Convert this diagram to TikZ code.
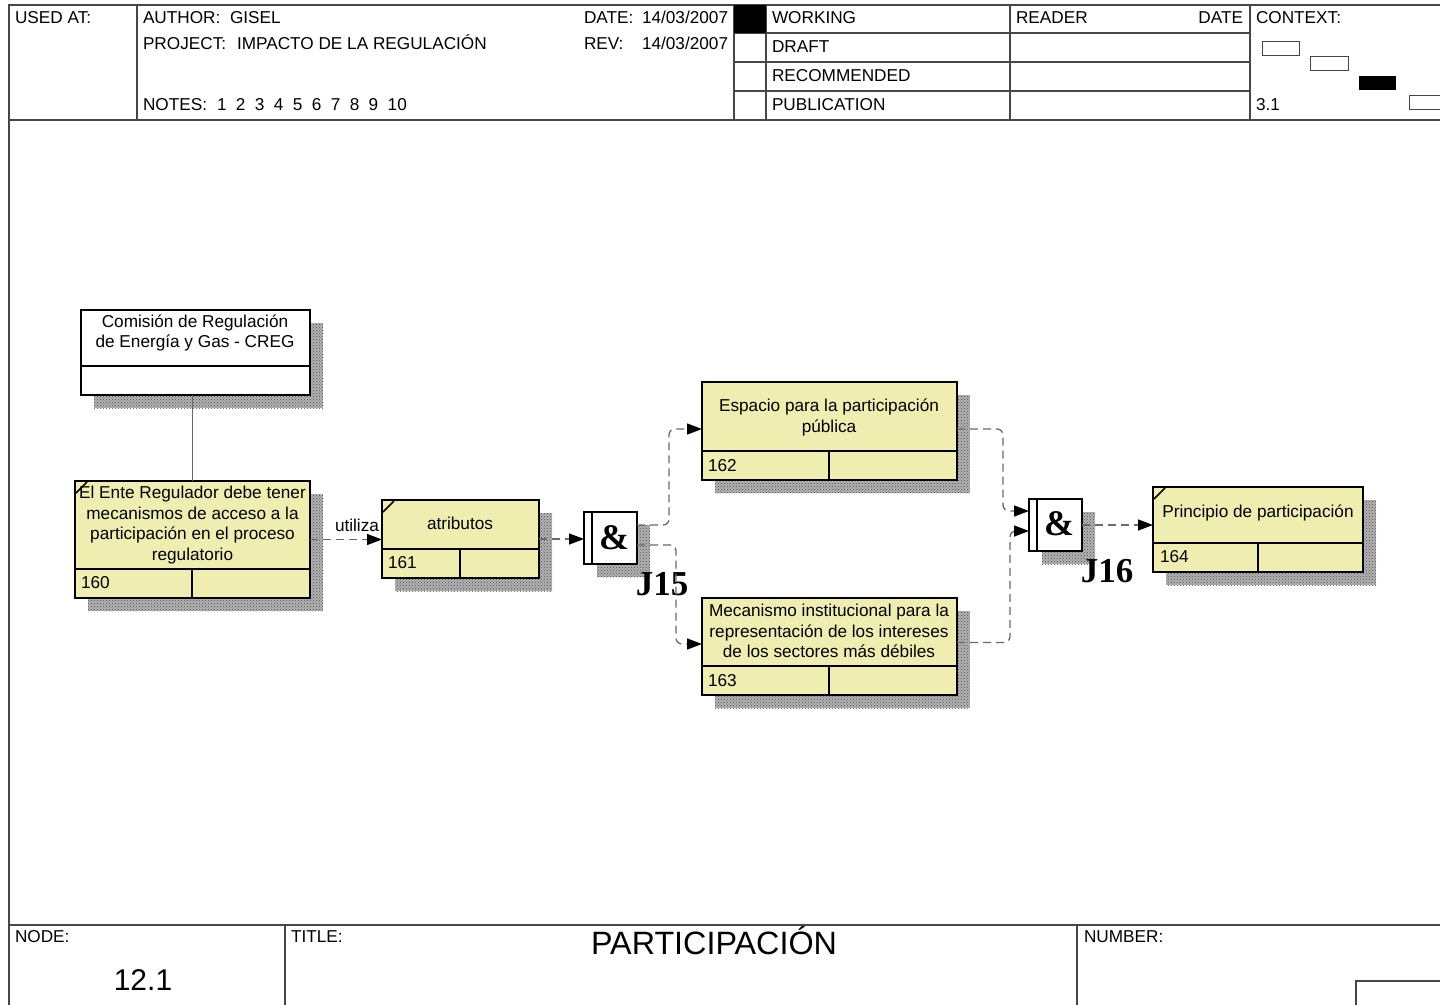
\documentclass[tikz,border=0pt]{standalone}
\usepackage{fontspec}
\setmainfont{Liberation Sans}
\newfontfamily\serifb{Liberation Serif}
\usetikzlibrary{patterns,arrows.meta,calc}
\definecolor{boxy}{RGB}{240,237,176}
\definecolor{framec}{RGB}{70,70,70}
\definecolor{connc}{RGB}{105,105,105}
\newcommand{\ns}{\hspace{9.4pt}}
\begin{document}
\begin{tikzpicture}[x=1pt,y=-1pt,
  every node/.style={inner sep=0pt, outer sep=0pt, font=\fontsize{17.2}{20.8}\selectfont},
  frame/.style={draw=framec, line width=1.3pt},
  shadowbox/.style={fill=black!30, postaction={pattern=crosshatch dots, pattern color=black!70}},
  abox/.style={draw=black, line width=2.8pt, fill=boxy, anchor=north west},
  wbox/.style={draw=black, line width=2.8pt, fill=white, anchor=north west},
  inner/.style={draw=black, line width=2.8pt},
  jbox/.style={draw=black, line width=2.4pt, fill=white, anchor=north west, minimum width=53pt, minimum height=52pt},
  conn/.style={draw=connc, line width=1.3pt, dash pattern=on 8pt off 5pt, rounded corners=6pt,
               -{Triangle[length=15pt,width=11pt,color=black]}},
  amp/.style={font=\serifb\bfseries\fontsize{36}{36}\selectfont},
  jlab/.style={font=\serifb\bfseries\fontsize{35}{35}\selectfont},
  htext/.style={anchor=base west},
  btext/.style={align=center},
  numtext/.style={anchor=base west}
]
\useasboundingbox (0,0) rectangle (1440,1004);
\fill[white] (0,0) rectangle (1440,1004);

% ---------- frame ----------
\draw[frame] (1445,5) -- (9,5) -- (9,1010);
\draw[frame] (9,120) -- (1445,120);
\draw[frame] (9,925) -- (1445,925);
\draw[frame] (137,5) -- (137,120);
\draw[frame] (734,5) -- (734,120);
\draw[frame] (766,5) -- (766,120);
\draw[frame] (1010,5) -- (1010,120);
\draw[frame] (1250,5) -- (1250,120);
\draw[frame] (734,33) -- (1250,33);
\draw[frame] (734,62) -- (1250,62);
\draw[frame] (734,91) -- (1250,91);
\fill[black] (734,5) rectangle (766,33);
\draw[frame, line width=1pt] (1262,41) rectangle (1299,55);
\draw[frame, line width=1pt] (1310,56) rectangle (1348,70);
\fill[black] (1359,76) rectangle (1396,90);
\draw[frame, line width=1pt] (1409,95) rectangle (1450,109);
\draw[frame] (285,925) -- (285,1010);
\draw[frame] (1077,925) -- (1077,1010);
\draw[frame] (1356,1010) -- (1356,981) -- (1445,981);

% ---------- header text ----------
\node[htext] (usedat) at (15,23) {USED AT:};
\node[htext] (author) at (143,23) {AUTHOR:};
\node[htext] (gisel) at (230,23) {GISEL};
\node[htext] (project) at (143,49) {PROJECT:};
\node[htext] (projname) at (237,49) {IMPACTO DE LA REGULACIÓN};
\node[htext] (notes) at (143,110) {NOTES:\hspace{10pt}1\ns2\ns3\ns4\ns5\ns6\ns7\ns8\ns9\ns10};
\node[htext] (datel) at (584,23) {DATE:};
\node[htext] (datev) at (642,23) {14/03/2007};
\node[htext] (revl) at (584,49) {REV:};
\node[htext] (revv) at (642,49) {14/03/2007};
\node[htext] (working) at (772,23) {WORKING};
\node[htext] (draft) at (772,52) {DRAFT};
\node[htext] (recom) at (772,81) {RECOMMENDED};
\node[htext] (public) at (772,110) {PUBLICATION};
\node[htext] (reader) at (1016,23) {READER};
\node[anchor=base east] (rdate) at (1243,23) {DATE};
\node[htext] (context) at (1256,23) {CONTEXT:};
\node[htext] (ctxnum) at (1256,110) {3.1};

% ---------- footer text ----------
\node[htext] (nodel) at (15,942) {NODE:};
\node[anchor=base, font=\fontsize{30}{30}\selectfont] (nodev) at (143,990) {12.1};
\node[htext] (titlel) at (291,942) {TITLE:};
\node[anchor=base, font=\fontsize{32.3}{32}\selectfont] (titlev) at (714,954) {PARTICIPACIÓN};
\node[htext] (numberl) at (1084,942) {NUMBER:};

% ---------- shadows ----------
\path[shadowbox] (94,323) rectangle (323,408);
\path[shadowbox] (88,494) rectangle (323,611);
\path[shadowbox] (395,513) rectangle (552,591);
\path[shadowbox] (597,525) rectangle (650,577);
\path[shadowbox] (715,395) rectangle (970,493);
\path[shadowbox] (715,611) rectangle (970,708);
\path[shadowbox] (1042,512) rectangle (1095,564);
\path[shadowbox] (1166,500) rectangle (1376,585);

% ---------- boxes ----------
\node[wbox, minimum width=229pt, minimum height=85pt] (creg) at (81,310) {};
\draw[inner] (81,366) -- (310,366);
\node[btext] (cregt) at (195,333) {Comisión de Regulación\\de Energía y Gas - CREG};

\node[abox, minimum width=235pt, minimum height=117pt] (b160) at (75,481) {};
\draw[inner] (75,569) -- (310,569);
\draw[inner] (192,569) -- (192,598);
\draw[black, line width=1.6pt] (76,493) -- (87,482);
\node[btext] (t160) at (192.5,525) {El Ente Regulador debe tener\\mecanismos de acceso a la\\participación en el proceso\\regulatorio};
\node[numtext] (n160) at (81,588) {160};

\node[abox, minimum width=157pt, minimum height=78pt] (b161) at (382,500) {};
\draw[inner] (382,549) -- (539,549);
\draw[inner] (460,549) -- (460,578);
\draw[black, line width=1.6pt] (383,512) -- (394,501);
\node (t161) at (460,523) {atributos};
\node[numtext] (n161) at (388,568) {161};

\node[abox, minimum width=255pt, minimum height=98pt] (b162) at (702,382) {};
\draw[inner] (702,451) -- (957,451);
\draw[inner] (829,451) -- (829,480);
\node[btext] (t162) at (829,417.5) {Espacio para la participación\\pública};
\node[numtext] (n162) at (708,471) {162};

\node[abox, minimum width=255pt, minimum height=97pt] (b163) at (702,598) {};
\draw[inner] (702,666) -- (957,666);
\draw[inner] (829,666) -- (829,695);
\node[btext] (t163) at (829,631) {Mecanismo institucional para la\\representación de los intereses\\de los sectores más débiles};
\node[numtext] (n163) at (708,686) {163};

\node[abox, minimum width=210pt, minimum height=85pt] (b164) at (1153,487) {};
\draw[inner] (1153,543) -- (1363,543);
\draw[inner] (1258,543) -- (1258,572);
\draw[black, line width=1.6pt] (1154,499) -- (1165,488);
\node (t164) at (1258,513) {Principio de participación};
\node[numtext] (n164) at (1160,562) {164};

% ---------- junctions ----------
\node[jbox] (j15) at (584,512) {};
\draw[black, line width=2.4pt] (592,512) -- (592,564);
\node[amp] (j15a) at (614,538) {\&};
\node[jlab] (j15l) at (662,584) {J15};

\node[jbox] (j16) at (1029,499) {};
\draw[black, line width=2.4pt] (1037,499) -- (1037,551);
\node[amp] (j16a) at (1059,524) {\&};
\node[jlab] (j16l) at (1107,571) {J16};

% ---------- connectors ----------
\draw[draw=connc, line width=1.3pt] (b160.north |- creg.south) -- (b160.north);
\draw[conn] (b160.east) -- (b160.east -| b161.west);
\node (utiliza) at (357,525) {utiliza};
\draw[conn] (b161.east) -- (b161.east -| j15.west);
\draw[conn] ($(j15.east)+(0,-13)$) -- (669,525) -- (669,429) -- ($(b162.west)+(0,-2)$);
\draw[conn] ($(j15.east)+(0,7)$) -- (676,545) -- (676,644) -- ($(b163.west)+(0,-2.5)$);
\draw[conn] ($(b162.east)+(0,-2)$) -- (1003,429) -- (1003,511) -- ($(j16.west)+(0,-14)$);
\draw[conn] ($(b163.east)+(0,-4)$) -- (1010,642.5) -- (1010,531) -- ($(j16.west)+(0,6)$);
\draw[conn] (j16.east) -- (j16.east -| b164.west);
\end{tikzpicture}
\end{document}
